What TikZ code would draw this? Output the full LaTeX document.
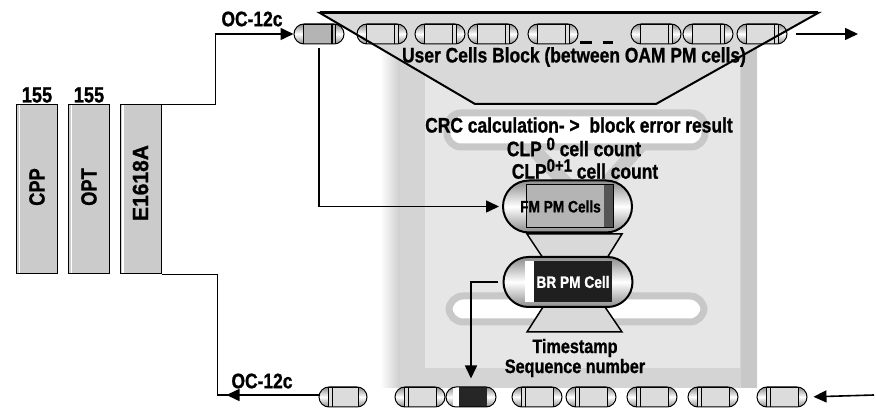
\documentclass[tikz,border=0pt]{standalone}
\usepackage{fontspec}
\newfontfamily\cf[FakeStretch=0.83, BoldFeatures={FakeBold=1}]{Liberation Sans}
\usetikzlibrary{shapes.misc,arrows.meta,calc}
\definecolor{pframe}{HTML}{D4D4D4}
\definecolor{pinner}{HTML}{E6E6E6}
\definecolor{vlogo}{HTML}{C8C8C8}
\definecolor{trap}{HTML}{D9D9D9}
\definecolor{cellin}{HTML}{DCDCDC}
\definecolor{capg}{HTML}{8C8C8C}
\definecolor{boardg}{HTML}{CBCBCB}
\definecolor{fmin}{HTML}{B4B4B4}
\definecolor{fmdark}{HTML}{555555}
\begin{document}
\begin{tikzpicture}[x=1pt,y=-1pt,
  txt/.style={inner sep=0pt, font=\cf\bfseries\fontsize{21}{22}\selectfont},
  txtb/.style={inner sep=0pt, align=center, font=\cf\bfseries\fontsize{19.5}{20}\selectfont},
  small/.style={inner sep=0pt, font=\cf\bfseries\fontsize{16.5}{17}\selectfont},
  vtxt/.style={inner sep=0pt, rotate=90, font=\cf\bfseries\fontsize{22}{23}\selectfont},
  board/.style={draw=black, line width=1pt, fill=boardg, minimum width=41pt, minimum height=169pt, inner sep=0pt,
    path picture={\draw[white, line width=1.6pt] ([xshift=3pt]path picture bounding box.south west) -- ([xshift=3pt]path picture bounding box.north west);}},
  cellbase/.style={draw=black, line width=1pt, rounded rectangle, minimum width=50pt, minimum height=20pt, inner sep=0pt,
    top color=capg, bottom color=capg, middle color=white},
  cellR/.style={cellbase, path picture={
    \draw[fill=cellin, line width=.8pt] ([xshift=9pt]path picture bounding box.south west) rectangle ([xshift=-9pt]path picture bounding box.north east);
    \draw[line width=.6pt] ([xshift=-13pt]path picture bounding box.south east) -- ([xshift=-13pt]path picture bounding box.north east);}},
  cellL/.style={cellbase, path picture={
    \draw[fill=cellin, line width=.8pt] ([xshift=9pt]path picture bounding box.south west) rectangle ([xshift=-9pt]path picture bounding box.north east);
    \draw[line width=.6pt] ([xshift=13pt]path picture bounding box.south west) -- ([xshift=13pt]path picture bounding box.north west);}},
  cellgray/.style={cellbase, path picture={
    \draw[fill=fmin, line width=.8pt] ([xshift=9pt]path picture bounding box.south west) rectangle ([xshift=-9pt]path picture bounding box.north east);
    \draw[line width=1.2pt] ([xshift=-12pt]path picture bounding box.south east) -- ([xshift=-12pt]path picture bounding box.north east);}},
  cellblack/.style={cellbase, path picture={
    \fill[white] ([xshift=7pt]path picture bounding box.south west) rectangle ([xshift=13pt]path picture bounding box.north west);
    \fill[black!85] ([xshift=13pt]path picture bounding box.south west) rectangle ([xshift=-9pt]path picture bounding box.north east);}},
  big/.style={draw=black, line width=2pt, rounded rectangle, minimum width=129pt, minimum height=52pt, inner sep=0pt,
    top color=capg, bottom color=capg, middle color=white},
  conn/.style={draw=black, line width=1.6pt},
  arr/.style={-{Triangle[length=13pt,width=12pt]}}
]
\useasboundingbox (0,0) rectangle (876,411);
\fill[white] (0,0) rectangle (876,411);

% background panel
\shade[left color=white, right color=vlogo] (380,48) rectangle (402,388);
\fill[pframe, rounded corners=4pt] (400,40) rectangle (757,388);
\fill[vlogo] (741,40) rectangle (757,388);
\fill[pinner] (425,55) rectangle (740,368);
% faint logo
\draw[vlogo, line width=14pt, line join=round] (530,146) -- (587,205) -- (640,146);
\draw[vlogo, line width=7pt, fill=white, rounded corners=14pt] (447,113) rectangle (705,147);
\draw[vlogo, line width=7pt, fill=white, rounded corners=14pt] (449,296) rectangle (704,322);

% user cells trapezoid
\fill[trap] (320,13) -- (818,13) -- (656,104) -- (475,104) -- cycle;

% top row of cells
\node[cellgray] (t1) at (319,34) {};
\node[cellR] (t2) at (382,34) {};
\node[cellR] (t3) at (440,34) {};
\node[cellR] (t4) at (493,34) {};
\node[cellR] (t5) at (553,34) {};
\node[cellR] (t6) at (656,34) {};
\node[cellR] (t7) at (708,34) {};
\node[cellR] (t8) at (762,34) {};
\draw[line width=3pt] (580,43) -- (592,43);
\draw[line width=3pt] (603,43) -- (613,43);
\draw[line width=2pt, line join=miter] (475,104) -- (320,13) -- (818,13) -- (656,104) -- cycle;
\draw[line width=3pt] (320,13) -- (818,13);

\node[txt] (ucb) at (574,57) {User Cells Block (between OAM PM cells)};
\node[txt] (crc) at (579,125) {CRC calculation- >\ \ block error result};
\node[txt] (clp0) at (574,147) {CLP \raisebox{6pt}{\fontsize{18}{18}\selectfont 0} cell count};
\node[txt] (clp1) at (585,169) {CLP\raisebox{7pt}{\fontsize{18}{18}\selectfont 0+1} cell count};

% hourglass pieces
\filldraw[fill=trap, line width=1.5pt] (527,234) -- (622,234) -- (607,258) -- (543,258) -- cycle;
\filldraw[fill=trap, line width=1.5pt] (543,307) -- (605,307) -- (622,332) -- (527,332) -- cycle;

% FM PM cells capsule
\node[big] (fm) at (567.5,206.5) {};
\draw[fill=fmin, line width=1pt] ($(fm.center)+(-41,-21.5)$) rectangle ($(fm.center)+(46,21.5)$);
\fill[fmdark] ($(fm.center)+(36,-21)$) rectangle ($(fm.center)+(45.5,21)$);
\node[small] (fmt) at ($(fm.center)+(-7,0)$) {FM PM Cells};

% BR PM cell capsule
\node[big, minimum height=50pt] (br) at (568,282) {};
\fill[white] ($(br.center)+(-43,-20.5)$) rectangle ($(br.center)+(-34,20.5)$);
\fill[black!88] ($(br.center)+(-34,-20.5)$) rectangle ($(br.center)+(44,20.5)$);
\node[small, text=white] (brt) at ($(br.center)+(5,0)$) {BR PM Cell};

\node[txtb] (ts) at (575,358) {Timestamp\\Sequence number};

% bottom row of cells
\node[cellL, minimum width=48pt] (b1) at (343,397) {};
\node[cellL] (b2) at (420,397) {};
\node[cellblack] (b3) at (471,397) {};
\node[cellL] (b4) at (537,397) {};
\node[cellL] (b5) at (591,397) {};
\node[cellL] (b6) at (652,397) {};
\node[cellL] (b7) at (713,397) {};
\node[cellL] (b8) at (782,397) {};

% boards
\node[board] (cpp) at (37,189.5) {};
\node[board] (opt) at (89,189.5) {};
\node[board] (e16) at (140.5,189.5) {};
\node[vtxt] (cppt) at (37,187) {CPP};
\node[vtxt] (optt) at (89,187) {OPT};
\node[vtxt, xscale=1.15] (e16t) at (140.5,183) {E1618A};
\node[txt, font=\cf\bfseries\fontsize{22}{23}\selectfont] (l1) at (37,95) {155};
\node[txt, font=\cf\bfseries\fontsize{22}{23}\selectfont] (l2) at (89,95) {155};

% labels
\node[txt] (oc1) at (252,19) {OC-12c};
\node[txt] (oc2) at (262,381) {OC-12c};

% connectors
\coordinate (outR) at (858,34);
\coordinate (inR) at (874,395);
\draw[conn, arr] (e16.north east) -- ++(54,0) |- (t1.west);
\draw[conn] (e16.south east) -- ++(56,0) |- ([yshift=2pt]b1.west);
\draw[conn, arr, shorten <=8pt] ([yshift=2pt]b1.west) -- ++(-92,0);
\draw[conn, arr, shorten <=4pt, shorten >=3pt] (t1.south) |- (fm.west);
\draw[conn, arr, shorten <=5pt, shorten >=8pt] (br.west) -| (b3.north);
\draw[conn, arr, shorten <=8pt] (t8.east) -- (outR);
\draw[conn, arr, shorten >=6pt] (inR) -- (b8.east);
\end{tikzpicture}
\end{document}
